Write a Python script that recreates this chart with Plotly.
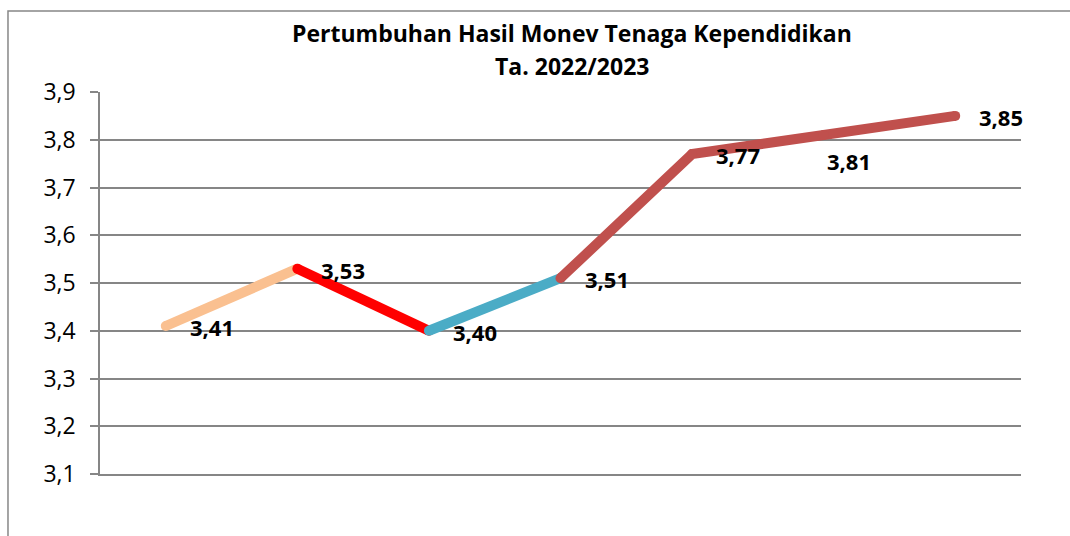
import plotly.graph_objects as go

# Data
points = ["1", "2", "3", "4", "5", "6", "7"]
values = [3.41, 3.53, 3.40, 3.51, 3.77, 3.81, 3.85]
labels = ["3,41", "3,53", "3,40", "3,51", "3,77", "3,81", "3,85"]
y_ticks = [3.1, 3.2, 3.3, 3.4, 3.5, 3.6, 3.7, 3.8, 3.9]
title_lines = ["Pertumbuhan Hasil Monev Tenaga Kependidikan", "Ta. 2022/2023"]

# Segment styling (start index, end index, colour)
segments = [(0, 1, "#FAC090"), (1, 2, "#FF0000"), (2, 3, "#4BACC6"), (3, 6, "#C0504D")]
label_shift = {5: (1, -26)}

FONT = "Open Sans"
xs = list(range(len(values)))

fig = go.Figure()
for s, e, c in segments:
    fig.add_trace(go.Scatter(
        x=xs[s:e + 1], y=values[s:e + 1], mode="lines+markers",
        line=dict(color=c, width=10),
        marker=dict(color=c, size=10, line=dict(width=0)),
        hoverinfo="skip", showlegend=False))

for i, (v, t) in enumerate(zip(values, labels)):
    dx, dy = label_shift.get(i, (22, -1))
    fig.add_annotation(x=xs[i], y=v, text=t, showarrow=False,
                       xanchor="left", yanchor="middle", xshift=dx, yshift=dy,
                       font=dict(family=FONT, size=22, color="black", weight="bold"))

for t, yp in zip(title_lines, [1.154, 1.068]):
    fig.add_annotation(xref="paper", yref="paper", x=0.513, y=yp, text=t,
                       showarrow=False, xanchor="center", yanchor="middle",
                       font=dict(family=FONT, size=23, color="black", weight="bold"))

fig.add_shape(type="rect", xref="paper", yref="paper",
              x0=-0.0999, x1=1.06, y0=-0.19, y1=1.212,
              line=dict(color="#878787", width=1.5), fillcolor="rgba(0,0,0,0)", layer="below")

fig.update_layout(
    width=1070, height=536,
    margin=dict(l=100, r=49, t=92, b=62),
    paper_bgcolor="white", plot_bgcolor="white",
    separators=",.",
    xaxis=dict(range=[-0.5, 6.5], showticklabels=False, showgrid=False, zeroline=False,
               showline=True, linecolor="#868686", linewidth=1.5, ticks=""),
    yaxis=dict(range=[3.1, 3.9], tickvals=y_ticks, tickformat=".1f",
               showgrid=True, gridcolor="#868686", gridwidth=1.5, zeroline=False,
               showline=True, linecolor="#868686", linewidth=1.5,
               ticks="outside", ticklen=8, tickcolor="#868686", tickwidth=1.5,
               ticklabelstandoff=10,
               tickfont=dict(family=FONT, size=23, color="black")),
)

fig.write_html("out.html")
